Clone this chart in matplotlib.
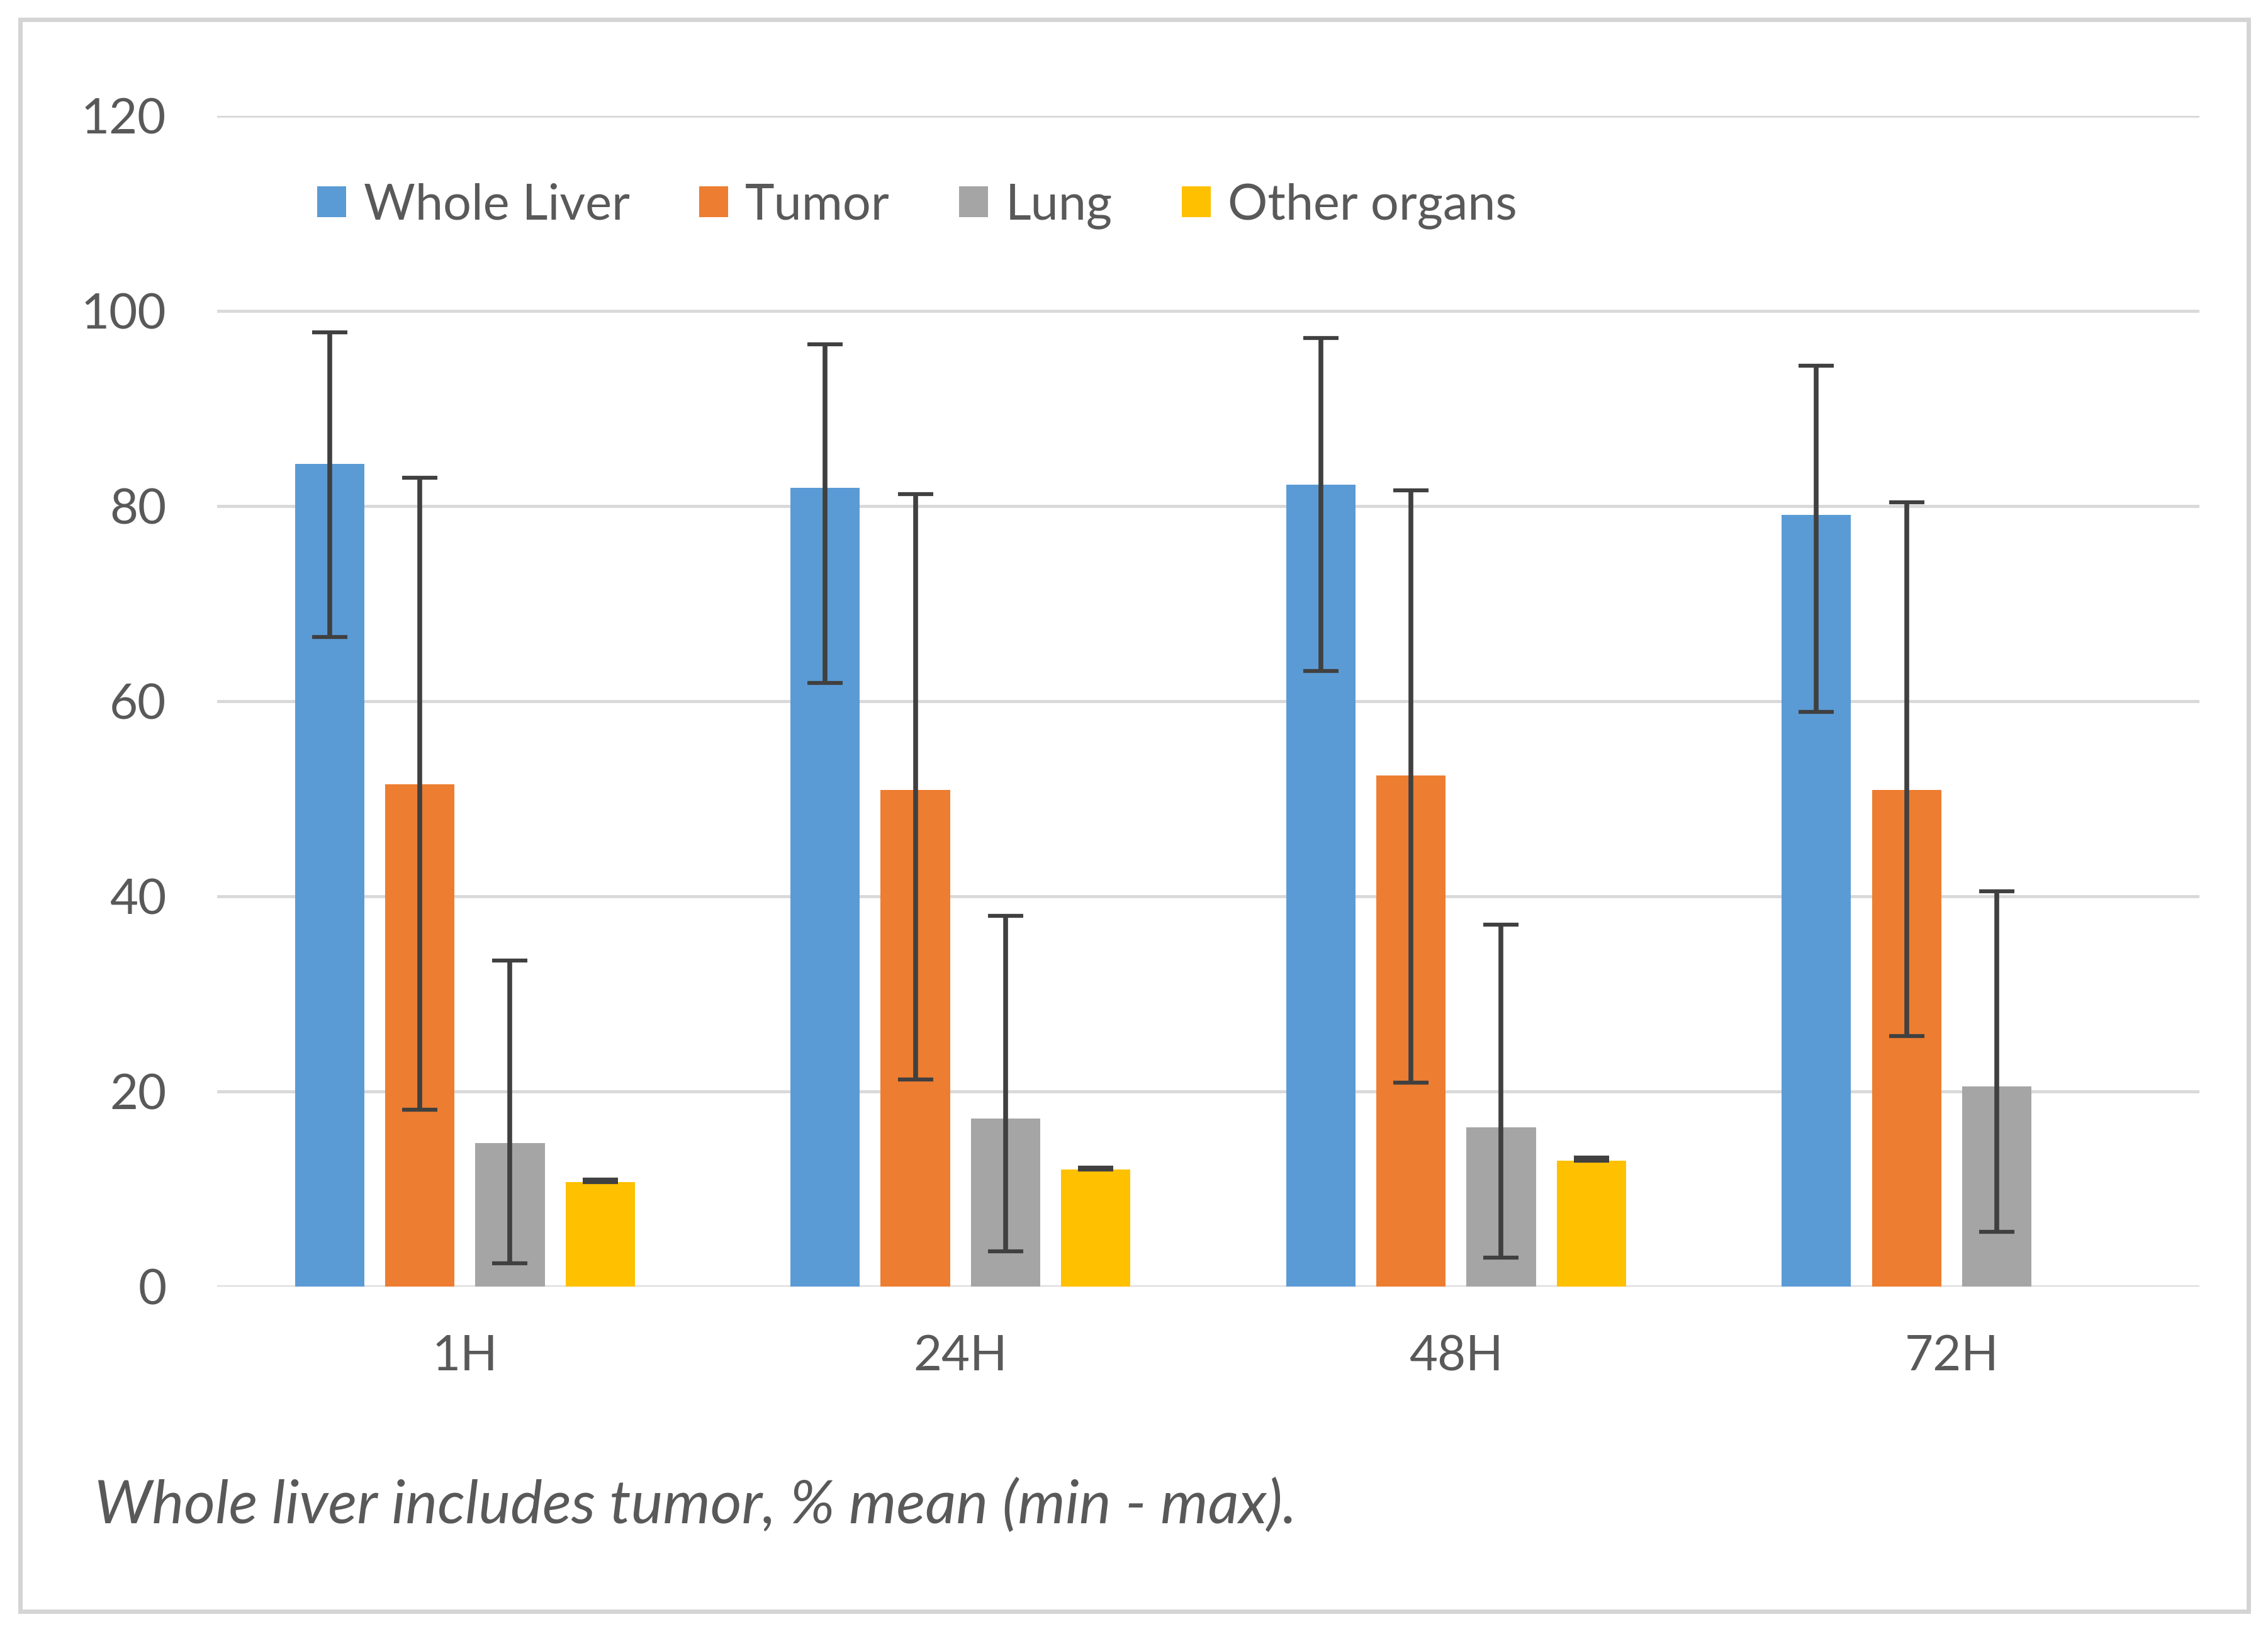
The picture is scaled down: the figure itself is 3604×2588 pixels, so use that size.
import matplotlib
matplotlib.use("Agg")
import matplotlib.pyplot as plt
import numpy as np
from matplotlib.patches import Rectangle

categories = ["1H", "24H", "48H", "72H"]
series_names = ["Whole Liver", "Tumor", "Lung", "Other organs"]
whole_liver = [84.3, 81.9, 82.2, 79.1]
whole_liver_min = [66.6, 61.9, 63.1, 58.9]
whole_liver_max = [97.8, 96.6, 97.2, 94.4]
tumor = [51.5, 50.9, 52.4, 50.9]
tumor_min = [18.1, 21.2, 20.9, 25.7]
tumor_max = [82.9, 81.2, 81.6, 80.4]
lung = [14.7, 17.2, 16.3, 20.5]
lung_min = [2.4, 3.6, 3.0, 5.6]
lung_max = [33.4, 38.0, 37.1, 40.5]
other = [10.7, 12.0, 12.9, np.nan]
other_min = [10.7, 12.0, 12.9, np.nan]
other_max = [11.0, 12.2, 13.2, np.nan]
y_ticks = [0, 20, 40, 60, 80, 100, 120]
caption = "Whole liver includes tumor, % mean (min - max)."

colors = ["#5B9BD5", "#ED7D31", "#A5A5A5", "#FFC000"]
font = ["Lato", "DejaVu Sans"]
plt.rcParams['font.family'] = font

fig = plt.figure(figsize=(36.05, 25.88), dpi=100)
fig.patches.append(Rectangle((0.009, 0.011), 0.982, 0.977, transform=fig.transFigure,
                             fill=False, edgecolor="#D4D4D4", linewidth=5))
ax = fig.add_axes([0.0957, 0.2102, 0.8738, 0.7187])

means = [whole_liver, tumor, lung, other]
mins = [whole_liver_min, tumor_min, lung_min, other_min]
maxs = [whole_liver_max, tumor_max, lung_max, other_max]
x = np.arange(len(categories))
step = 0.182
width = 0.14
for i in range(4):
    m = np.array(means[i], dtype=float)
    lo = m - np.array(mins[i], dtype=float)
    hi = np.array(maxs[i], dtype=float) - m
    pos = x + (i - 1.5) * step
    ax.bar(pos, m, width=width, color=colors[i], label=series_names[i], zorder=3)
    ax.errorbar(pos, m, yerr=[lo, hi], fmt='none', ecolor="#404040",
                elinewidth=5.5, capsize=20, capthick=4.5, zorder=4)

ax.set_xlim(-0.5, 3.5)
ax.set_ylim(0, 120)
ax.set_yticks(y_ticks)
ax.set_xticks(x)
ax.set_xticklabels(categories)
ax.grid(axis='y', color="#D9D9D9", linewidth=3.5, zorder=0)
ax.set_axisbelow(True)
for s in ax.spines.values():
    s.set_visible(False)
ax.tick_params(axis='both', length=0, labelsize=56, labelcolor="#595959")
ax.tick_params(axis='x', pad=55)
ax.tick_params(axis='y', pad=58)

leg = ax.legend(loc='center left', bbox_to_anchor=(0.0505, 0.923), ncol=4, frameon=False,
                fontsize=57, handlelength=0.58, handleheight=0.58, handletextpad=0.35,
                columnspacing=1.39, labelcolor="#595959", borderaxespad=0, borderpad=0)

fig.text(0.0415, 0.0757, caption, fontsize=69, style='italic', color="#595959",
         va='center', ha='left')

fig.savefig("out.png", dpi=100, facecolor="white")
